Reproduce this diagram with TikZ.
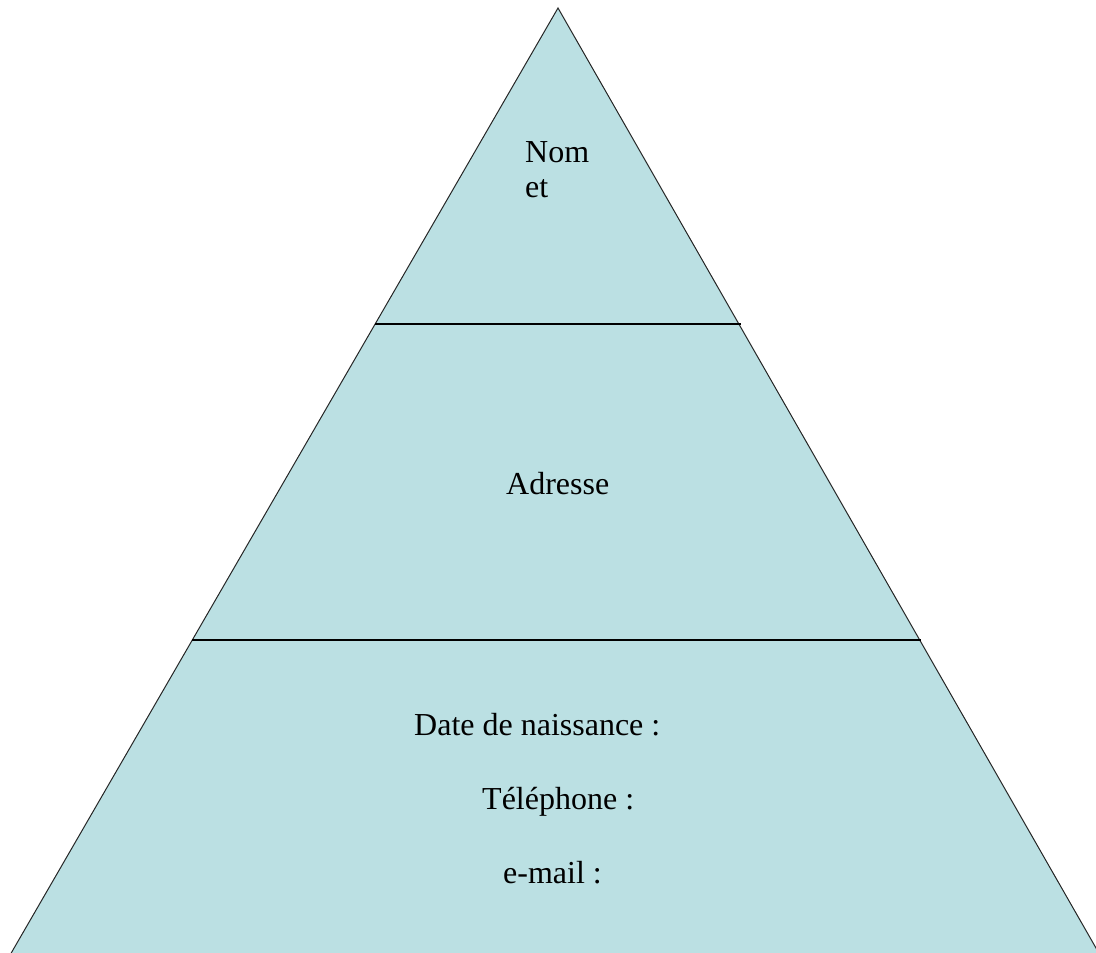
\documentclass[tikz,border=0pt]{standalone}
\usepackage{fontspec}
\setmainfont{Liberation Serif}
\definecolor{pyr}{HTML}{BBE0E3}
\begin{document}
\begin{tikzpicture}[x=1pt,y=-1pt,
  lbl/.style={anchor=base west,inner sep=0pt,font=\fontsize{32}{35}\selectfont},
  sep/.style={draw=black,line width=1.2pt}]
\useasboundingbox (0,0) rectangle (1096,953);
\coordinate (top) at (558,8);
\coordinate (bl) at (6,962);
\coordinate (br) at (1104,962);
\coordinate (l1) at (375,324);
\coordinate (r1) at (741,324);
\coordinate (l2) at (192,640);
\coordinate (r2) at (921,640);
\begin{scope}
\clip (0,0) rectangle (1096,953);
\filldraw[fill=pyr,draw=black!85,line width=1pt] (top) -- (br) -- (bl) -- cycle;
\end{scope}
\draw[sep] (l1) -- (r1);
\draw[sep] (l2) -- (r2);
\node[lbl] (nom) at (525,162) {Nom};
\node[lbl] (et) at (525,197) {et};
\node[lbl] (adr) at (506,494) {Adresse};
\node[lbl] (date) at (414,735) {Date de naissance :};
\node[lbl] (tel) at (482,809) {Téléphone :};
\node[lbl] (mail) at (503,883) {e-mail :};
\end{tikzpicture}
\end{document}
